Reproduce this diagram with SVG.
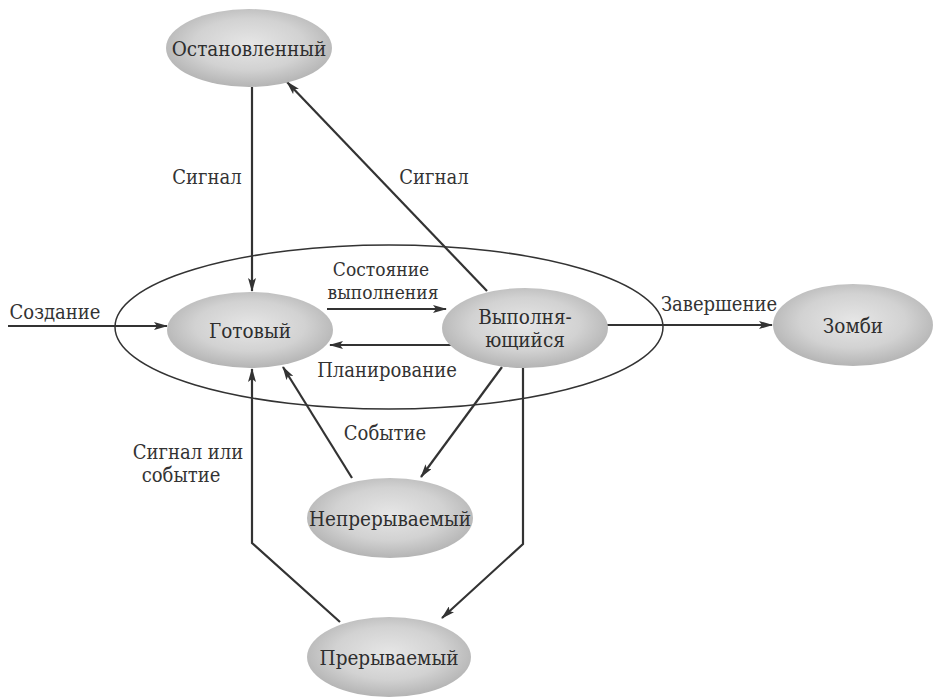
<svg xmlns="http://www.w3.org/2000/svg" width="937" height="698" viewBox="0 0 937 698">
<style>
text{font-family:"DejaVu Serif Condensed","DejaVu Serif",serif;font-stretch:condensed}
.n{fill:url(#g);stroke:none}
.t{font-size:20.5px;fill:#2e2e2e;text-anchor:middle}
.l{font-size:20px;fill:#333;text-anchor:middle}
.s{font-size:19px}
.c{fill:none;stroke:#333;stroke-width:2.2}
.a{marker-end:url(#ah)}
</style>
<defs>
<radialGradient id="g" cx="50%" cy="45%" r="55%">
<stop offset="0" stop-color="#e6e6e6"/>
<stop offset="0.6" stop-color="#d2d2d2"/>
<stop offset="1" stop-color="#b4b4b4"/>
</radialGradient>
<marker id="ah" viewBox="0 0 14 8" refX="13" refY="4" markerWidth="14" markerHeight="8" markerUnits="userSpaceOnUse" orient="auto">
<path d="M0,0 L14,4 L0,8 L3,4 Z" fill="#333"/>
</marker>
</defs>
<rect width="937" height="698" fill="#ffffff"/>
<g id="connectors">
<ellipse cx="389" cy="327" rx="274" ry="82" fill="none" stroke="#333" stroke-width="1.5"/>
<line class="c a" x1="252" y1="87" x2="252" y2="291"/>
<line class="c a" x1="487" y1="291" x2="287" y2="82"/>
<line class="c a" x1="8" y1="326" x2="167" y2="326"/>
<line class="c a" x1="327" y1="309" x2="446" y2="309"/>
<line class="c a" x1="455" y1="345" x2="330" y2="345"/>
<line class="c a" x1="607" y1="325" x2="772" y2="325"/>
<line class="c a" x1="352" y1="478" x2="283" y2="367"/>
<line class="c a" x1="502" y1="367" x2="421" y2="477"/>
<polyline class="c a" points="523,368 523,544 442,618"/>
<polyline class="c a" points="340,622 252,543 252,369"/>
<text class="l" x="207" y="184">Сигнал</text>
<text class="l" x="434" y="184">Сигнал</text>
<text class="l s" x="381" y="276">Состояние</text>
<text class="l s" x="383" y="299">выполнения</text>
<text class="l" x="55" y="319">Создание</text>
<text class="l" x="719" y="311">Завершение</text>
<text class="l" x="387" y="377">Планирование</text>
<text class="l" x="385" y="440">Событие</text>
<text class="l" x="188" y="459">Сигнал или</text>
<text class="l" x="181" y="482">событие</text>
</g>
<g id="n-stopped"><ellipse class="n" cx="249" cy="48" rx="83" ry="39"/><text class="t" x="249" y="56">Остановленный</text></g>
<g id="n-ready"><ellipse class="n" cx="250" cy="330" rx="83" ry="38"/><text class="t" x="250" y="338">Готовый</text></g>
<g id="n-running"><ellipse class="n" cx="525" cy="328" rx="83" ry="40"/><text class="t" x="525" y="324">Выполня-</text><text class="t" x="525" y="347">ющийся</text></g>
<g id="n-zombie"><ellipse class="n" cx="853" cy="325" rx="80" ry="41"/><text class="t" x="853" y="333">Зомби</text></g>
<g id="n-uninterruptible"><ellipse class="n" cx="390" cy="518" rx="83" ry="40"/><text class="t" x="390" y="526">Непрерываемый</text></g>
<g id="n-interruptible"><ellipse class="n" cx="389" cy="657" rx="82" ry="40"/><text class="t" x="389" y="665">Прерываемый</text></g>
</svg>
